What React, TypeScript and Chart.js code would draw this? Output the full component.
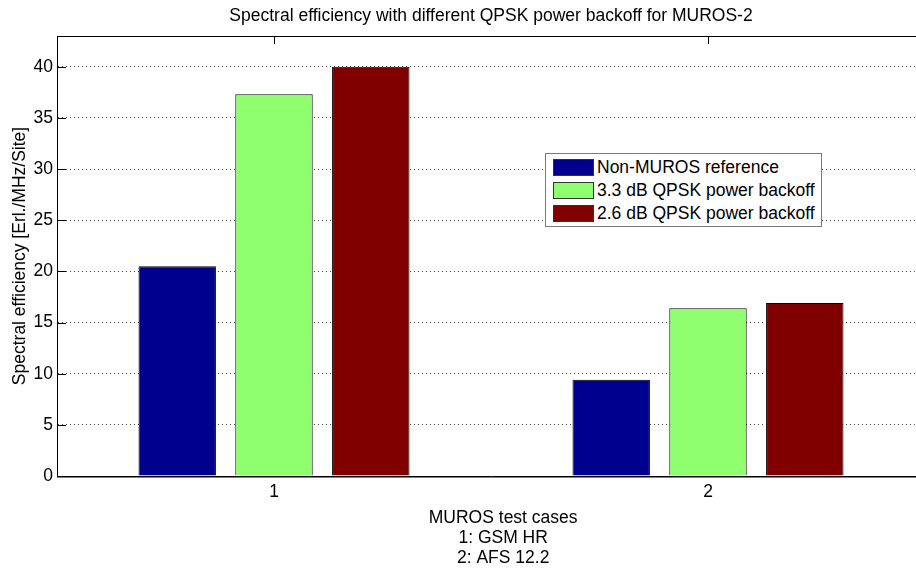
import React, { useEffect, useRef } from "react";
import { Chart, registerables } from "chart.js";

Chart.register(...registerables);

// ---- data ----
const categories = ["1", "2"];
const seriesNames = [
  "Non-MUROS reference",
  "3.3 dB QPSK power backoff",
  "2.6 dB QPSK power backoff",
];
const nonMurosReference = [20.5, 9.4];
const backoff33dB = [37.3, 16.4];
const backoff26dB = [40.0, 16.9];
const seriesColors = ["#00008F", "#8FFF70", "#800000"];
const yMin = 0;
const yMax = 43;
const yStep = 5;
const chartTitle = "Spectral efficiency with different QPSK power backoff for MUROS-2";
const xTitleLines = ["MUROS test cases", "1: GSM HR", "2: AFS 12.2"];
const yTitle = "Spectral efficiency [Erl./MHz/Site]";

const FONT = "'Liberation Sans', Arial, Helvetica, sans-serif";
const FS = 17.5;
// the reference's x label sits a little right of the axes centre
const X_TITLE_INDENT = "     ";

const framePlugin = {
  id: "matlabFrame",
  afterDatasetsDraw(chart: any) {
    const { ctx, chartArea, scales } = chart;
    const { left, right, top, bottom } = chartArea;
    ctx.save();
    ctx.strokeStyle = "#000";
    ctx.lineWidth = 1;
    ctx.setLineDash([]);
    ctx.beginPath();
    // top and right edges of the axes box
    ctx.moveTo(left, Math.round(top) + 0.5);
    ctx.lineTo(right, Math.round(top) + 0.5);
    ctx.moveTo(Math.round(right) + 0.5, top);
    ctx.lineTo(Math.round(right) + 0.5, bottom);
    // y tick marks (inside)
    scales.y.ticks.forEach((t: any) => {
      const py = Math.round(scales.y.getPixelForValue(t.value)) + 0.5;
      ctx.moveTo(left, py);
      ctx.lineTo(left + 9, py);
      ctx.moveTo(right, py);
      ctx.lineTo(right - 9, py);
    });
    // x tick marks at top (inside)
    scales.x.ticks.forEach((_t: any, i: number) => {
      const px = Math.round(scales.x.getPixelForTick(i)) + 0.5;
      ctx.moveTo(px, top);
      ctx.lineTo(px, top + 8);
    });
    ctx.stroke();
    // soft second pixel under the baseline
    ctx.strokeStyle = "#808080";
    ctx.beginPath();
    ctx.moveTo(left, Math.round(bottom) + 1.5);
    ctx.lineTo(right, Math.round(bottom) + 1.5);
    ctx.stroke();
    ctx.restore();
  },
};

export default function App() {
  const canvasRef = useRef<HTMLCanvasElement | null>(null);

  useEffect(() => {
    if (!canvasRef.current) return;
    const seriesValues = [nonMurosReference, backoff33dB, backoff26dB];
    const chart = new Chart(canvasRef.current, {
      type: "bar",
      data: {
        labels: categories,
        datasets: seriesValues.map((vals, i) => ({
          label: seriesNames[i],
          data: vals,
          backgroundColor: seriesColors[i],
          borderColor: "#000",
          borderWidth: 1,
          categoryPercentage: 0.669,
          barPercentage: 0.8,
        })),
      },
      plugins: [framePlugin],
      options: {
        animation: false,
        responsive: false,
        maintainAspectRatio: false,
        devicePixelRatio: 1,
        layout: { padding: { left: 0, right: 10, top: 0, bottom: 0 } },
        plugins: {
          legend: { display: false },
          tooltip: { enabled: false },
          title: {
            display: true,
            text: chartTitle,
            fullSize: false,
            color: "#000",
            font: { family: FONT, size: FS, weight: "normal", lineHeight: 1.2 },
            padding: { top: 5.5, bottom: 9.5 },
          },
        },
        scales: {
          x: {
            type: "category",
            offset: true,
            grid: { display: false, drawTicks: false },
            border: { display: true, color: "#000", width: 1 },
            ticks: {
              color: "#000",
              font: { family: FONT, size: FS },
              padding: 6,
              maxRotation: 0,
            },
            title: {
              display: true,
              text: xTitleLines.map((l) => X_TITLE_INDENT + l),
              color: "#000",
              font: { family: FONT, size: FS, lineHeight: 1.13 },
              padding: { top: 0, bottom: 1 },
            },
            afterFit: (scale: any) => {
              scale.height = 93;
            },
          },
          y: {
            type: "linear",
            min: yMin,
            max: yMax,
            grid: {
              display: true,
              drawTicks: false,
              color: "rgba(0,0,0,0.7)",
              lineWidth: 1,
            },
            border: { display: true, color: "#000", width: 1, dash: [1, 3] },
            ticks: {
              stepSize: yStep,
              includeBounds: false,
              color: "#000",
              font: { family: FONT, size: FS },
              padding: 4,
            },
            title: {
              display: true,
              text: yTitle,
              color: "#000",
              font: { family: FONT, size: FS, lineHeight: 1.2 },
              padding: { top: 10, bottom: 0 },
            },
            afterFit: (scale: any) => {
              scale.width = 57;
            },
          },
        },
      },
    } as any);
    return () => chart.destroy();
  }, []);

  const rowTops = [4.5, 27.8, 51.1];

  return (
    <div
      style={{
        position: "fixed",
        left: 0,
        top: 0,
        width: 916,
        height: 569,
        overflow: "hidden",
        background: "#fff",
      }}
    >
      <canvas
        ref={canvasRef}
        width={935}
        height={569}
        style={{ display: "block", width: 935, height: 569 }}
      />
      <div
        style={{
          position: "absolute",
          left: 545,
          top: 153,
          width: 277,
          height: 74,
          boxSizing: "border-box",
          border: "1px solid #7a7a7a",
          background: "#fff",
          fontFamily: FONT,
          fontSize: FS,
          color: "#000",
        }}
      >
        {seriesNames.map((name, i) => (
          <div
            key={name}
            style={{
              position: "absolute",
              left: 7,
              top: rowTops[i],
              height: 17,
              display: "flex",
              alignItems: "center",
              whiteSpace: "nowrap",
            }}
          >
            <div
              style={{
                width: 41,
                height: 17,
                boxSizing: "border-box",
                border: "1px solid #333",
                background: seriesColors[i],
                marginRight: 3,
                flex: "0 0 auto",
              }}
            />
            <span style={{ lineHeight: "17px" }}>{name}</span>
          </div>
        ))}
      </div>
    </div>
  );
}
